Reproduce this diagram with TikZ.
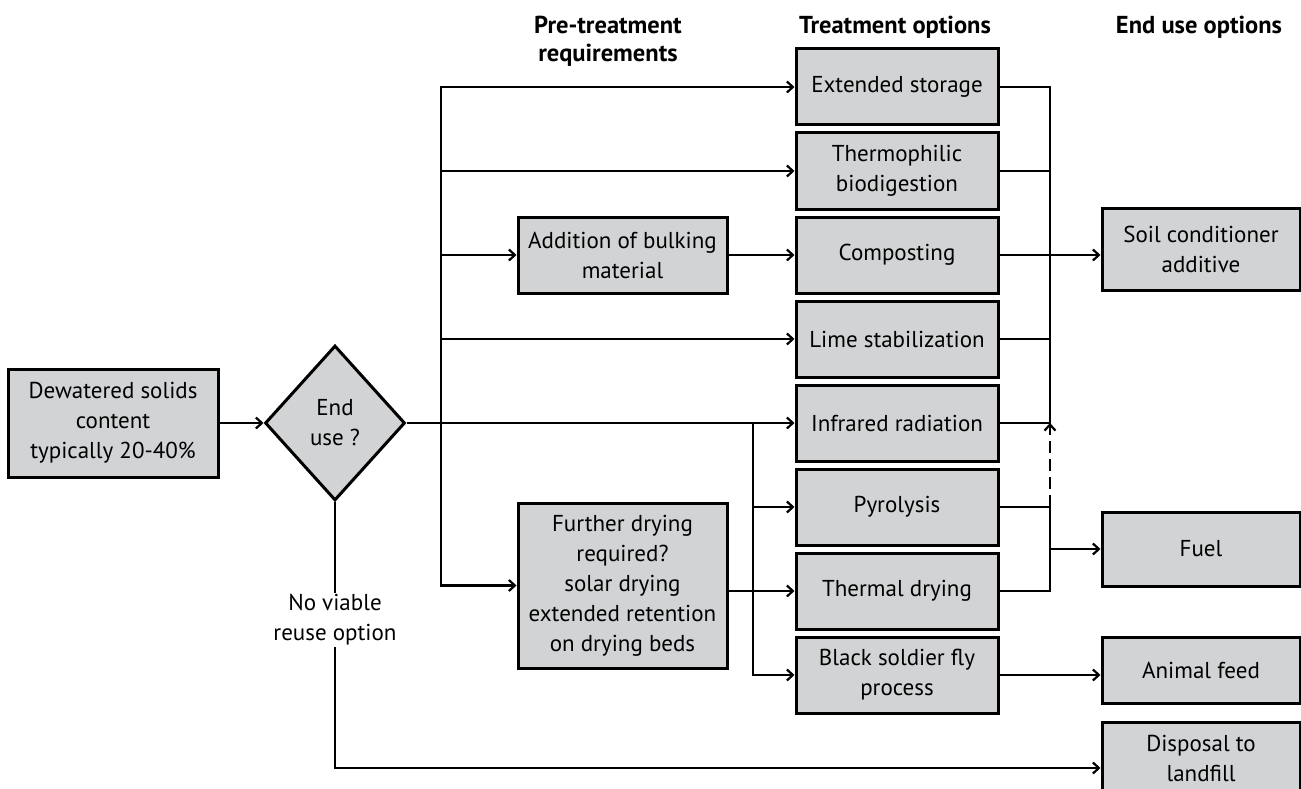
\documentclass[tikz,border=0pt]{standalone}
\usepackage{fontspec}
\setmainfont{PT Sans}
\usetikzlibrary{arrows.meta,shapes.geometric}
\definecolor{boxgray}{RGB}{209,211,212}
\begin{document}
\begin{tikzpicture}[x=1pt,y=-1pt,
  font=\fontsize{23}{30}\selectfont,
  box/.style={draw=black, line width=3pt, fill=boxgray, align=center, inner sep=0pt},
  treat/.style={box, minimum width=202pt, minimum height=76pt},
  enduse/.style={box, minimum width=198pt},
  link/.style={line width=2.8pt},
  arr/.style={link, -{Straight Barb[length=6pt,width=11pt,line width=2.2pt]}},
  head/.style={font=\fontsize{24.5}{28}\selectfont\bfseries, align=center},
]
\path[fill=white] (0,0) rectangle (1301,789);
\clip (0,0) rectangle (1301,789);

% headers
\node[head] (hpre) at (608,41) {Pre-treatment\\requirements};
\node[head] (htreat) at (895,27) {Treatment options};
\node[head] (hend) at (1199,27) {End use options};

% left
\node[box, minimum width=210pt, minimum height=108pt] (dew) at (113,423) {Dewatered solids\\content\\typically 20-40\%};
\node[box, diamond, minimum width=140pt, minimum height=155pt] (dia) at (335,423) {End\\use ?};

% pre-treatment
\node[box, minimum width=209pt, minimum height=76pt] (bulk) at (622.5,255) {Addition of bulking\\material};
\node[box, minimum width=209pt, minimum height=165pt] (dry) at (622.5,585.5) {Further drying\\required?\\solar drying\\extended retention\\on drying beds};

% treatment
\node[treat] (ext) at (897,87) {Extended storage};
\node[treat] (thermo) at (897,171) {Thermophilic\\biodigestion};
\node[treat] (comp) at (897,255) {Composting};
\node[treat] (lime) at (897,339) {Lime stabilization};
\node[treat] (ir) at (897,423) {Infrared radiation};
\node[treat] (pyro) at (897,507) {Pyrolysis};
\node[treat] (thd) at (897,591) {Thermal drying};
\node[treat] (bsf) at (897,675) {Black soldier fly\\process};

% end use
\node[enduse, minimum height=82pt] (soil) at (1201,249) {Soil conditioner\\additive};
\node[enduse, minimum height=74pt] (fuel) at (1201,549) {Fuel};
\node[enduse, minimum height=66pt] (feed) at (1201,670) {Animal feed};
\node[enduse, minimum height=72pt] (disp) at (1201,758) {Disposal to\\landfill};

% helper coordinates
\coordinate (trx) at (441,0);
\coordinate (sbx) at (753,0);
\coordinate (cx) at (1050,0);
\coordinate (dly) at (0,768);

% connectors left
\draw[arr] (dew) -- (dia);
\draw[arr] (dia.east) -- (ir.west);

% trunk
\draw[arr] (dry.west -| trx) |- (ext.west);
\draw[arr] (ext.west -| trx) |- (dry.west);
\draw[arr] (thermo.west -| trx) -- (thermo.west);
\draw[arr] (bulk.west -| trx) -- (bulk.west);
\draw[arr] (lime.west -| trx) -- (lime.west);
\draw[arr] (bulk.east) -- (comp.west);

% sub trunk
\draw[arr] (ir.west -| sbx) |- (bsf.west);
\draw[arr] (pyro.west -| sbx) -- (pyro.west);
\draw[arr] (dry.east |- thd.west) -- (thd.west);

% collectors
\draw[link] (ext.east) -| (ir.east -| cx) -- (ir.east);
\draw[link] (thermo.east) -- (thermo.east -| cx);
\draw[link] (lime.east) -- (lime.east -| cx);
\draw[arr] (comp.east) -- (comp.east -| soil.west);
\draw[link, dash pattern=on 12pt off 6pt, -{Straight Barb[length=6pt,width=11pt,line width=2.2pt]}] (pyro.east -| cx) -- (ir.east -| cx);
\draw[link] (pyro.east) -| (thd.east -| cx) -- (thd.east);
\draw[arr] (fuel.west -| cx) -- (fuel.west);
\draw[arr] (bsf.east) -- (bsf.east -| feed.west);

% disposal
\draw[arr] (dia.south) |- (disp.west |- dly);
\node[fill=white, align=center, inner sep=2pt] (nv) at (335,620) {No viable\\reuse option};
\end{tikzpicture}
\end{document}
